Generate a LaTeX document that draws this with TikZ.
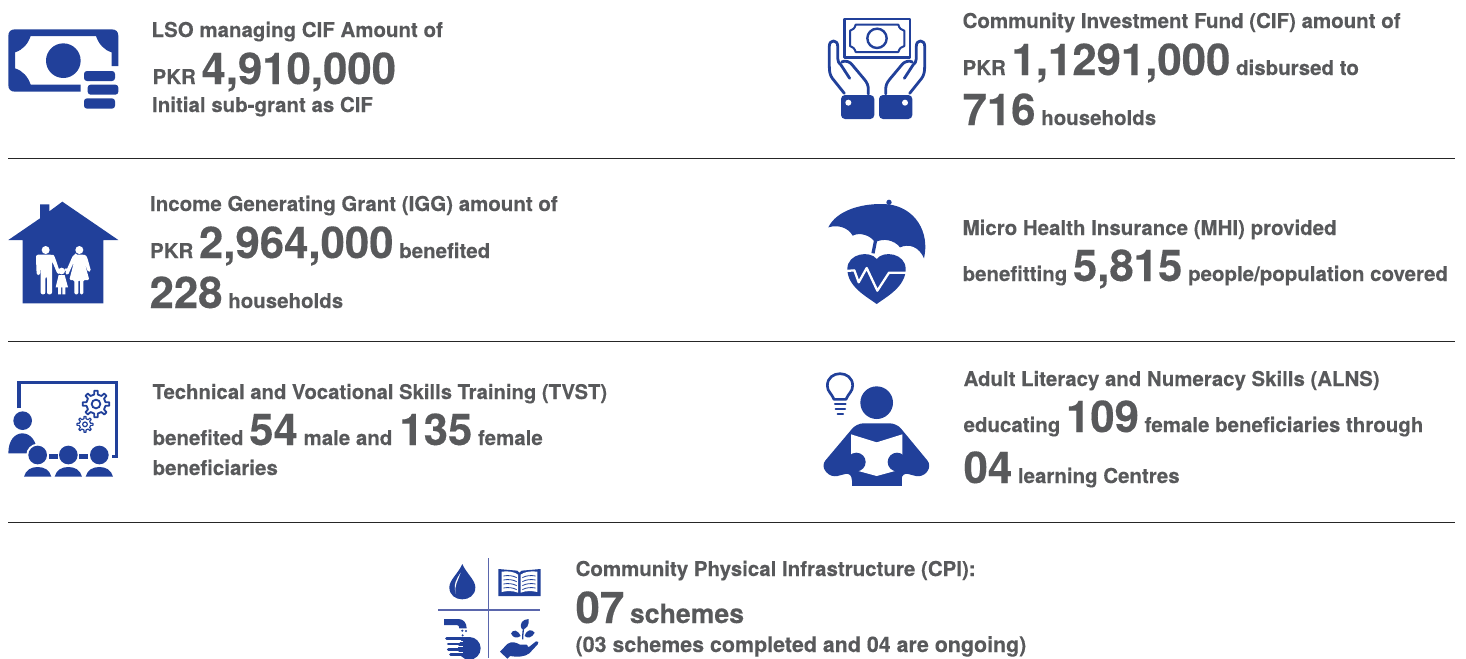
\documentclass[tikz,border=0pt]{standalone}
\usepackage{fontspec}
\setmainfont{TeX Gyre Heros}[BoldFeatures={FakeBold=0.25}]
\definecolor{ib}{HTML}{21409A}
\definecolor{tg}{HTML}{58595B}
\definecolor{xl}{HTML}{5A66AC}
\newcommand\smt{\fontsize{15.36}{18}\selectfont}
\newcommand\bgt{\fontsize{32.8}{36}\selectfont}
\newcommand\mdt{\fontsize{20}{24}\selectfont}
\newcommand\lgt{\fontsize{16.05}{18}\selectfont}
\newcommand\tvt{\fontsize{15.2}{18}\selectfont}
\newcommand\alt{\fontsize{15.3}{18}\selectfont}
\tikzset{
 lbl/.style={anchor=base west,inner sep=0pt,text=tg,font=\bfseries\smt,xshift=-.5pt},
 rulel/.style={draw=black!85,line width=.7pt},
 ico/.style={x=.25pt,y=-.25pt},
 wl/.style={draw=white,line cap=round,line join=round},
 bl/.style={draw=ib,line cap=round,line join=round},
 gear/.style={draw=ib,fill=white,line join=round}
}
\begin{document}
\begin{tikzpicture}[x=.75pt,y=-.75pt]
\useasboundingbox (0,0) rectangle (1466,658);
% rules
\coordinate (r1a) at (8,158); \coordinate (r1b) at (1455,158);
\coordinate (r2a) at (8,341); \coordinate (r2b) at (1455,341);
\coordinate (r3a) at (8,522); \coordinate (r3b) at (1455,522);
\draw[rulel] (r1a) -- (r1b);
\draw[rulel] (r2a) -- (r2b);
\draw[rulel] (r3a) -- (r3b);
% texts
\node[lbl] (t1a) at (152,37) {LSO managing CIF Amount of};
\node[lbl] (t1b) at (153,84) {PKR {\bgt 4,910,000}};
\node[lbl] (t1c) at (152.5,112) {Initial sub-grant as CIF};
\node[lbl] (t2a) at (963,28) {Community Investment Fund (CIF) amount of};
\node[lbl] (t2b) at (963,75) {PKR {\bgt 1,1291,000} disbursed to};
\node[lbl] (t2c) at (963,125) {{\bgt 716} households};
\node[lbl] (t3a) at (150.5,211) {Income Generating Grant (IGG) amount of};
\node[lbl] (t3b) at (150.5,258) {PKR {\bgt 2,964,000} benefited};
\node[lbl] (t3c) at (150,308) {{\bgt 228} households};
\node[lbl] (t4a) at (963,235) {Micro Health Insurance (MHI) provided};
\node[lbl] (t4b) at (963,281) {benefitting {\bgt 5,815} people/population covered};
\node[lbl] (t5a) at (153,399) {\tvt Technical and Vocational Skills Training (TVST)};
\node[lbl] (t5b) at (153,445) {benefited {\bgt 54} male and\hspace{1pt} {\bgt 135} female};
\node[lbl] (t5c) at (153,475) {beneficiaries};
\node[lbl] (t6a) at (964,386) {\alt Adult Literacy and Numeracy Skills (ALNS)};
\node[lbl] (t6b) at (964,432) {educating {\bgt 109} female beneficiaries through};
\node[lbl] (t6c) at (964,483) {{\bgt 04} learning Centres};
\node[lbl] (t7a) at (576,576) {Community Physical Infrastructure (CPI):};
\node[lbl] (t7b) at (576,623) {{\bgt 07} {\mdt schemes}};
\node[lbl] (t7c) at (576,652) {\lgt (03 schemes completed and 04 are ongoing)};
% icon 1: money
\begin{scope}[shift={(0,10)},ico]
\fill[ib] (45,58) -- (335,58) .. controls (348,58) and (355,65) .. (355,78) -- (355,168) -- (335,168) -- (335,127)
  .. controls (312,120) and (296,102) .. (288,78) -- (92,78) .. controls (84,102) and (68,120) .. (45,127)
  -- (45,175) .. controls (68,182) and (84,200) .. (92,224) -- (242,224) -- (242,245) -- (45,245)
  .. controls (32,245) and (25,238) .. (25,225) -- (25,78) .. controls (25,65) and (32,58) .. (45,58) -- cycle;
\fill[ib] (190,152) circle[radius=52];
\fill[ib,rounded corners=2.2pt] (252,183) rectangle (345,213);
\fill[ib,rounded corners=2.2pt] (263,224) rectangle (355,254);
\fill[ib,rounded corners=2.2pt] (252,265) rectangle (345,296);
\end{scope}
% icon 2: hands with note
\begin{scope}[shift={(815,10)},ico]
\draw[bl,line width=2pt,line cap=butt,line join=round] (88,27) rectangle (285,142);
\draw[bl,line width=1.5pt] (122,44) -- (250,44) .. controls (253,55) and (258,60) .. (268,62) -- (268,108) .. controls (258,110) and (253,116) .. (250,126) -- (122,126) .. controls (119,116) and (114,110) .. (105,108) -- (105,62) .. controls (114,60) and (119,55) .. (122,44) -- cycle;
\draw[bl,line width=1.8pt] (186,85) circle[radius=29];
\foreach \s/\o in {1/0,-1/372}{
 \begin{scope}[shift={(\o,0)},xscale=\s]
 \draw[bl,line width=2.1pt] (88,250) -- (52,205) .. controls (45,195) and (43,185) .. (43,170) -- (43,108) .. controls (43,88) and (68,88) .. (68,108) -- (68,145) .. controls (68,155) and (72,160) .. (78,165) -- (104,205);
 \draw[bl,line width=2.1pt] (80,156) .. controls (90,150) and (105,155) .. (112,165) -- (148,208) .. controls (156,218) and (160,225) .. (160,240) -- (160,252);
 \end{scope}}
\fill[ib,rounded corners=3pt] (78,255) rectangle (178,327);
\fill[ib,rounded corners=3pt] (192,255) rectangle (292,327);
\fill[white] (100,278) circle[radius=9];
\fill[white] (270,278) circle[radius=9];
\end{scope}
% icon 3: house
\begin{scope}[shift={(0,195)},ico]
\fill[ib] (25,135) -- (120,70) -- (120,28) -- (148,28) -- (148,49) -- (187,20) -- (355,135) -- (310,135) -- (310,325) -- (68,325) -- (68,135) -- cycle;
\fill[white] (137,165) circle[radius=12];
\fill[white] (238,165) circle[radius=12];
\fill[white] (185,228) circle[radius=10];
\fill[white,rounded corners=1.5pt] (110,240) -- (108,190) .. controls (108,183) and (112,179) .. (120,179) -- (154,179) .. controls (162,180) and (164,186) .. (167,193) -- (181,235) -- (173,238) -- (156,198) -- (156,298) -- (141,298) -- (141,245) -- (136,245) -- (136,298) -- (122,298) -- (122,198) -- (120,240) -- cycle;
\fill[white,rounded corners=1pt] (227,179) -- (250,179) .. controls (258,180) and (261,186) .. (263,192) -- (273,228) -- (264,231) -- (253,200) -- (268,255) -- (250,255) -- (250,298) -- (240,298) -- (240,255) -- (235,255) -- (235,298) -- (223,298) -- (223,255) -- (208,255) -- (222,200) -- (204,240) -- (195,236) -- (214,192) .. controls (217,185) and (220,180) .. (227,179) -- cycle;
\fill[white] (176,240) -- (194,240) -- (204,277) -- (196,277) -- (196,298) -- (187,298) -- (187,277) -- (183,277) -- (183,298) -- (174,298) -- (174,277) -- (167,277) -- cycle;
\fill[white] (172,224) circle[radius=5];
\fill[white] (198,224) circle[radius=5];
\end{scope}
% icon 4: umbrella + heart
\begin{scope}[shift={(815,195)},ico]
\fill[ib] (222,22) circle[radius=8];
\fill[ib] (40,97) .. controls (65,45) and (145,22) .. (220,28) .. controls (300,38) and (345,110) .. (327,190)
 .. controls (312,155) and (282,145) .. (255,157) .. controls (238,135) and (205,128) .. (180,142)
 .. controls (168,122) and (135,110) .. (113,122) .. controls (100,98) and (70,88) .. (40,97) -- cycle;
\draw[ib,line width=2.4pt] (183,130) -- (174,175);
\fill[ib] (185,327) .. controls (155,305) and (97,275) .. (97,222) .. controls (97,175) and (165,165) .. (185,192) .. controls (205,165) and (272,175) .. (272,222) .. controls (272,275) and (215,305) .. (185,327) -- cycle;
\draw[wl,line width=1.7pt,line cap=butt] (92,228) -- (118,226) -- (131,262) -- (155,219) -- (187,287) -- (222,233) -- (280,233);
\end{scope}
% icon 5: training
\begin{scope}[shift={(0,375)},ico]
\draw[ib,line width=2.7pt] (57,100) -- (57,23) -- (350,23) -- (350,245) -- (335,245);
\foreach \cx/\cy/\ri/\ro/\lw/\hr in {288/87/29/40/1.35/13,255/148/17/24/.9/7}{
 \begin{scope}[shift={(\cx,\cy)}]
 \draw[gear,line width=\lw pt] (-11:\ri) \foreach \a in {0,45,...,315}{ -- ({\a-11}:\ri) -- ({\a-7}:\ro) -- ({\a+7}:\ro) -- ({\a+11}:\ri) } -- cycle;
 \draw[ib,line width=\lw pt] (0,0) circle[radius=\hr];
 \end{scope}}
\fill[ib] (68,137) circle[radius=28];
\fill[ib] (25,235) .. controls (25,195) and (45,175) .. (67,175) .. controls (90,175) and (110,195) .. (112,235) -- cycle;
\foreach \x in {113,205,298}{
 \fill[white] (\x,240) circle[radius=34];
}
\fill[white] (72,275) rectangle (340,310);
\fill[ib] (147,237) rectangle (175,251);
\fill[ib] (237,237) rectangle (265,251);
\foreach \x in {113,205,298}{
 \fill[ib] (\x,240) circle[radius=28];
 \fill[ib] ({\x-41},305) .. controls ({\x-36},285) and ({\x-20},276) .. (\x,276) .. controls ({\x+20},276) and ({\x+36},285) .. ({\x+41},305) -- cycle;
}
\end{scope}
% icon 6: reader
\begin{scope}[shift={(815,365)},ico]
\draw[bl,line width=2pt] (57,103) .. controls (50,85) and (37,80) .. (37,62) .. controls (37,14) and (113,14) .. (113,62) .. controls (113,80) and (100,85) .. (93,103) -- cycle;
\draw[bl,line width=1.6pt,line cap=round] (60,118) -- (92,118);
\draw[bl,line width=1.6pt] (62,132) -- (90,132);
\draw[bl,line width=1.6pt] (68,146) -- (84,146);
\fill[ib] (185,113) circle[radius=49];
\fill[ib,rounded corners=5pt] (125,175) -- (245,175) -- (350,302) -- (322,338) -- (260,322) -- (260,362) -- (110,362) -- (110,322) -- (48,338) -- (18,302) -- cycle;
\fill[ib] (110,340) rectangle (260,362);
\fill[white] (108,208) -- (185,232) -- (262,208) -- (262,290) -- (240,318) -- (185,333) -- (130,318) -- (108,290) -- cycle;
\fill[ib] (124,291) circle[radius=28];
\fill[ib] (246,291) circle[radius=28];
\end{scope}
% icon 7: CPI
\begin{scope}[shift={(430,550)},ico]
\draw[xl,line width=.8pt] (176,25) -- (176,325);
\draw[xl,line width=.8pt] (25,180) -- (330,180);
\fill[ib] (97,42) .. controls (85,70) and (58,90) .. (58,112) .. controls (58,160) and (136,160) .. (136,112) .. controls (136,90) and (109,70) .. (97,42) -- cycle;
\fill[white] (92,68) .. controls (80,85) and (68,105) .. (78,132) .. controls (70,110) and (85,90) .. (92,68) -- cycle;
\fill[ib] (205,57) -- (262,62) -- (268,68) -- (275,62) -- (332,57) -- (332,138) -- (205,138) -- cycle;
\fill[white] (215,65) .. controls (235,62) and (255,66) .. (264,74) -- (264,128) .. controls (250,122) and (230,122) .. (215,126) -- cycle;
\fill[white] (322,65) .. controls (302,62) and (282,66) .. (272,74) -- (272,128) .. controls (286,122) and (306,122) .. (322,126) -- cycle;
\foreach \y in {78,90,102,114}{
 \draw[ib,line width=.6pt] (220,\y) .. controls (235,{\y-3}) and (250,{\y-1}) .. (260,{\y+5});
 \draw[ib,line width=.6pt] (317,\y) .. controls (302,{\y-3}) and (287,{\y-1}) .. (277,{\y+5});
}
% tap
\fill[ib] (42,207) -- (85,207) .. controls (100,207) and (110,218) .. (110,235) -- (88,235) .. controls (88,228) and (85,225) .. (80,225) -- (42,225) -- cycle;
\fill[ib] (97,242) circle[radius=3.5]; \fill[ib] (108,243) circle[radius=3.5]; \fill[ib] (98,256) circle[radius=3.5];
\fill[ib] (118,295) circle[radius=34];
\foreach \y/\a in {265/50,282/55,298/55,313/62}{
 \draw[ib,line width=2.2pt,line cap=round] (\a,\y) -- (118,\y);
}
\foreach \y in {273.5,290,305.5}{ \draw[white,line width=.5pt] (50,\y) -- (98,\y); }
% plant
\draw[ib,line width=1pt] (278,268) .. controls (278,250) and (280,235) .. (284,222);
\fill[ib] (276,238) .. controls (266,220) and (278,208) .. (296,207) .. controls (298,225) and (290,238) .. (276,238) -- cycle;
\fill[ib] (272,258) .. controls (262,238) and (250,238) .. (243,250) .. controls (248,264) and (262,266) .. (272,258) -- cycle;
\fill[ib] (284,258) .. controls (290,238) and (305,236) .. (314,248) .. controls (306,264) and (292,266) .. (284,258) -- cycle;
\fill[ib] (210,305) -- (232,282) .. controls (245,272) and (260,278) .. (270,284) -- (290,284) .. controls (295,284) and (296,292) .. (290,293) -- (268,295) -- (298,290) -- (318,274) .. controls (325,272) and (328,278) .. (323,283) -- (298,310) .. controls (285,320) and (265,322) .. (240,318) -- (232,326) -- cycle;
\end{scope}
\end{tikzpicture}
\end{document}
